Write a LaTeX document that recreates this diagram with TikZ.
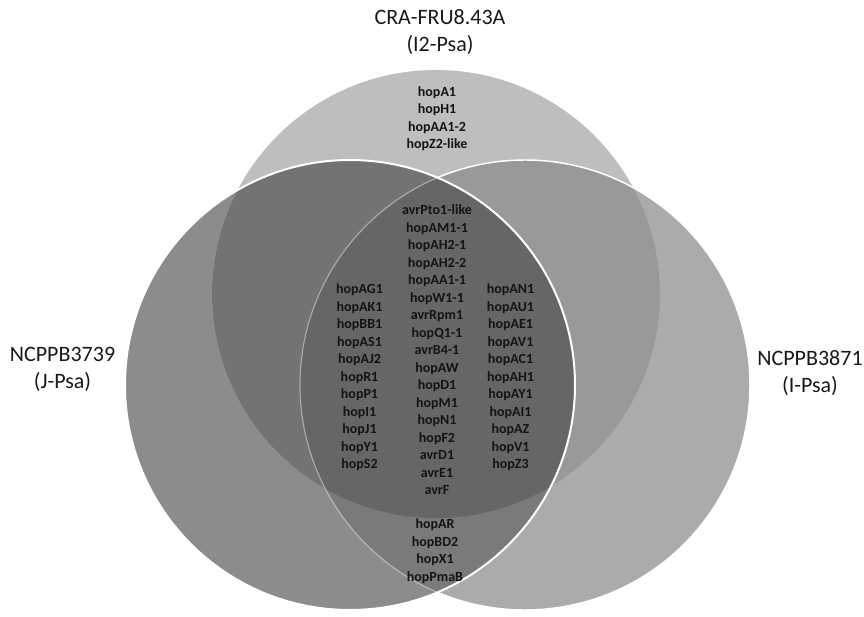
\documentclass[tikz,border=0pt]{standalone}
\usepackage{fontspec}
\setmainfont{Carlito}
\definecolor{cTop}{gray}{0.745}
\definecolor{cLeft}{gray}{0.55}
\definecolor{cRight}{gray}{0.67}
\definecolor{cTL}{gray}{0.45}
\definecolor{cTR}{gray}{0.60}
\definecolor{cLR}{gray}{0.48}
\definecolor{cAll}{gray}{0.40}
\definecolor{txt}{gray}{0.08}
\begin{document}
\begin{tikzpicture}[x=0.75pt,y=-0.75pt,
  gene/.style={font=\bfseries\fontsize{10.5pt}{13.125pt}\selectfont, text=txt, align=center, inner sep=0pt},
  strain/.style={font=\fontsize{16.5pt}{20.25pt}\selectfont, text=black!90, align=center, inner sep=0pt}]
\def\Tc{(436,294) circle[radius=168pt]}
\def\Lc{(350,385) circle[radius=168.75pt]}
\def\Rc{(525,385) circle[radius=168.75pt]}
\useasboundingbox (0,0) rectangle (864,617);
% base fills
\fill[cLeft] \Lc;
\fill[cRight] \Rc;
\fill[cTop] \Tc;
% overlaps
\begin{scope}\clip \Lc; \fill[cTL] \Tc; \end{scope}
\begin{scope}\clip \Rc; \fill[cTR] \Tc; \end{scope}
\begin{scope}\clip \Lc; \fill[cLR] \Rc; \end{scope}
\begin{scope}\clip \Lc; \clip \Rc; \fill[cAll] \Tc; \end{scope}
% outlines
\begin{scope}[even odd rule]
  \clip (0,0) rectangle (864,617) \Lc;
  \draw[white, line width=1.1pt] \Rc;
\end{scope}
\begin{scope}
  \clip \Lc;
  \draw[white, opacity=0.4, line width=0.9pt] \Rc;
\end{scope}
\draw[white, line width=1.5pt] \Lc;
% strain labels
\node[strain] (top) at (440,32.5) {CRA-FRU8.43A\\(I2-Psa)};
\node[strain] (left) at (62.5,369) {NCPPB3739\\(J-Psa)};
\node[strain] (right) at (810,373) {NCPPB3871\\(I-Psa)};
% gene lists
\node[gene] (gtop) at (437,118.5) {hopA1\\hopH1\\hopAA1-2\\hopZ2-like};
\node[gene] (gcore) at (437,350) {avrPto1-like\\hopAM1-1\\hopAH2-1\\hopAH2-2\\hopAA1-1\\hopW1-1\\avrRpm1\\hopQ1-1\\avrB4-1\\hopAW\\hopD1\\hopM1\\hopN1\\hopF2\\avrD1\\avrE1\\avrF};
\node[gene] (gleft) at (359.5,377.5) {hopAG1\\hopAK1\\hopBB1\\hopAS1\\hopAJ2\\hopR1\\hopP1\\hopI1\\hopJ1\\hopY1\\hopS2};
\node[gene] (gright) at (510.5,377.5) {hopAN1\\hopAU1\\hopAE1\\hopAV1\\hopAC1\\hopAH1\\hopAY1\\hopAI1\\hopAZ\\hopV1\\hopZ3};
\node[gene] (gbottom) at (435,551) {hopAR\\hopBD2\\hopX1\\hopPmaB};
\end{tikzpicture}
\end{document}
